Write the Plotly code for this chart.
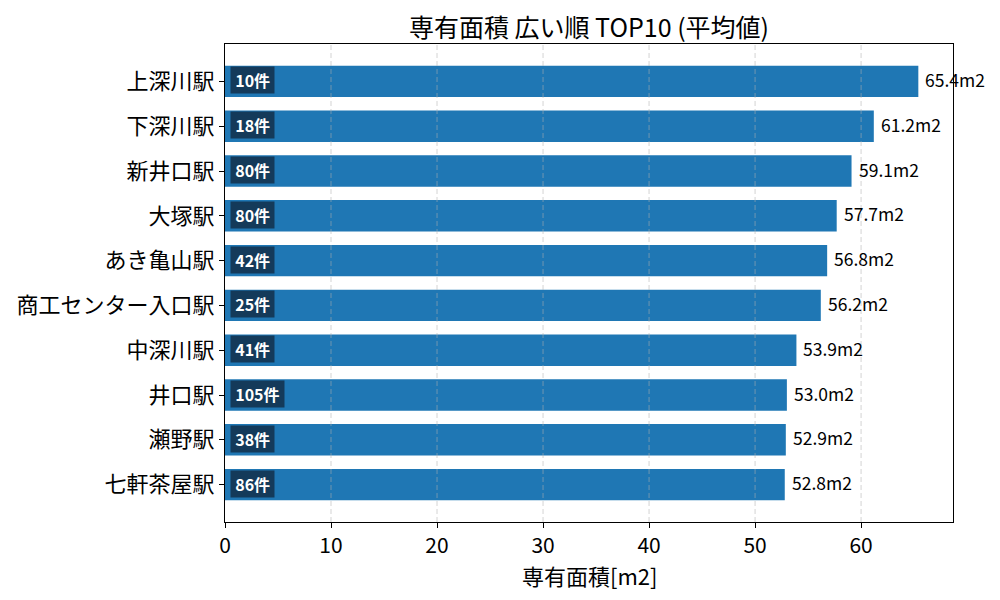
import plotly.graph_objects as go

# data
stations = ['上深川駅', '下深川駅', '新井口駅', '大塚駅', 'あき亀山駅',
            '商工センター入口駅', '中深川駅', '井口駅', '瀬野駅', '七軒茶屋駅']
areas = [65.4, 61.2, 59.1, 57.7, 56.8, 56.2, 53.9, 53.0, 52.9, 52.8]
counts = [10, 18, 80, 80, 42, 25, 41, 105, 38, 86]

FONT = 'Noto Sans CJK JP'

fig = go.Figure(go.Bar(
    x=areas, y=list(range(len(stations))), orientation='h',
    marker=dict(color='#1f77b4', line=dict(width=0)),
    width=0.7, hoverinfo='skip',
))

# value labels and count badges
for i, (a, c) in enumerate(zip(areas, counts)):
    fig.add_annotation(x=a, y=i, xref='x', yref='y', text=f'{a:.1f}m2',
                       showarrow=False, xanchor='left', xshift=5, yshift=2,
                       font=dict(family=FONT, size=17.5, color='black'))
    fig.add_annotation(x=0, y=i, xref='x', yref='y', text=f'&#8201;<b>{c}件</b>&#8201;',
                       showarrow=False, xanchor='left', xshift=5, yshift=1,
                       bgcolor='#143a5a', borderpad=1,
                       font=dict(family=FONT, size=16, color='white'))

# dashed grid drawn over the bars
for t in range(10, 70, 10):
    fig.add_shape(type='line', xref='x', yref='paper', x0=t, x1=t, y0=0, y1=1,
                  layer='above', line=dict(color='rgba(176,176,176,0.55)', width=1, dash='5px,3px'))

# x axis title
fig.add_annotation(text='専有面積[m2]', xref='paper', yref='paper', x=0.5, y=0,
                   yshift=-53, yanchor='middle', showarrow=False,
                   font=dict(family=FONT, size=22, color='black'))

fig.update_layout(
    width=1000, height=600,
    paper_bgcolor='white', plot_bgcolor='white',
    margin=dict(l=217, r=55, t=36, b=86),
    showlegend=False,
    font=dict(family=FONT, color='black'),
    title=dict(text='専有面積 広い順 TOP10 (平均値)', x=0.5, xref='paper', xanchor='center',
               y=0.966, yanchor='middle', font=dict(size=25)),
)
fig.update_xaxes(range=[0, 68.67], dtick=10, showgrid=False, zeroline=False,
                 ticks='outside', ticklen=5, tickcolor='black', automargin=False,
                 showline=True, linecolor='black', linewidth=1, mirror=True,
                 tickfont=dict(size=21))
fig.update_yaxes(range=[9.835, -0.835], tickmode='array',
                 tickvals=list(range(len(stations))), ticktext=stations,
                 showgrid=False, zeroline=False, automargin=False,
                 ticks='outside', ticklen=5, tickcolor='black',
                 showline=True, linecolor='black', linewidth=1, mirror=True,
                 tickfont=dict(size=22))

fig.write_html('out.html')
